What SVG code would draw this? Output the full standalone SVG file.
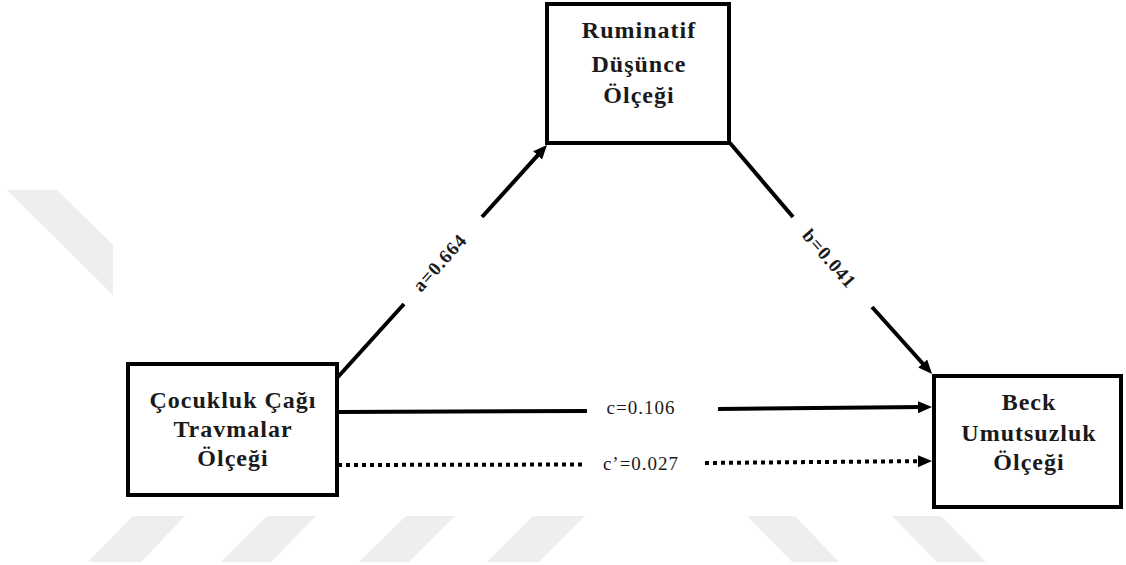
<svg xmlns="http://www.w3.org/2000/svg" width="1126" height="565" viewBox="0 0 1126 565">
<style>
.bg{fill:#ffffff}
.wm{fill:#eeeeee}
.box{fill:#ffffff;stroke:#000000;stroke-width:4}
.nt{font-family:"Liberation Serif","Times New Roman",serif;font-weight:bold;font-size:24px;letter-spacing:1px;fill:#1a1a1a;text-anchor:middle}
.ln{fill:none;stroke:#000000;stroke-width:4}
.dot{fill:none;stroke:#000000;stroke-width:4;stroke-dasharray:4 4}
.lb{font-family:"Liberation Serif","Times New Roman",serif;font-size:19px;letter-spacing:1px;fill:#1a1a1a;text-anchor:middle}
.lbb{font-weight:bold}
</style>
<defs>
<marker id="arr" markerUnits="userSpaceOnUse" markerWidth="16" markerHeight="14" refX="4" refY="6" orient="auto">
<path d="M0,0 L14,6 L0,12 z" fill="#000000"/>
</marker>
</defs>
<rect class="bg" x="0" y="0" width="1126" height="565"/>
<g id="watermark">
<polygon class="wm" points="7,190 57,190 113,245 113,295"/>
<polygon class="wm" points="133,516 185,516 141,562 88,562"/>
<polygon class="wm" points="267,516 316,516 271,562 221,562"/>
<polygon class="wm" points="406,516 455,516 409,562 359,562"/>
<polygon class="wm" points="533,516 585,516 539,562 487,562"/>
<polygon class="wm" points="747,516 795,516 839,562 792,562"/>
<polygon class="wm" points="892,516 941,516 986,562 937,562"/>
</g>
<g id="connectors">
<line class="ln" x1="337" y1="378" x2="404" y2="304"/>
<line class="ln" x1="482" y1="217" x2="540.3" y2="152.4" marker-end="url(#arr)"/>
<text class="lb lbb" transform="translate(440,263) rotate(-48)" y="6">a=0.664</text>
<line class="ln" x1="730" y1="143" x2="793" y2="217"/>
<line class="ln" x1="872" y1="307" x2="925.4" y2="366.5" marker-end="url(#arr)"/>
<text class="lb lbb" transform="translate(829,259) rotate(49)" y="6">b=0.041</text>
<line class="ln" x1="338" y1="412" x2="587" y2="411"/>
<line class="ln" x1="718" y1="409" x2="922" y2="407.1" marker-end="url(#arr)"/>
<text class="lb" x="641" y="414">c=0.106</text>
<line class="dot" x1="338" y1="465" x2="585" y2="464.5"/>
<line class="dot" x1="705" y1="463" x2="922" y2="461.1" marker-end="url(#arr)"/>
<text class="lb" x="641" y="470">c’=0.027</text>
</g>
<g id="node-ruminatif">
<rect class="box" x="547" y="4" width="182" height="139"/>
<text class="nt" x="639" y="38">Ruminatif</text>
<text class="nt" x="639" y="72">Düşünce</text>
<text class="nt" x="639" y="103">Ölçeği</text>
</g>
<g id="node-cocukluk">
<rect class="box" x="128" y="364" width="209" height="131"/>
<text class="nt" x="233" y="408">Çocukluk Çağı</text>
<text class="nt" x="233" y="437">Travmalar</text>
<text class="nt" x="233" y="466">Ölçeği</text>
</g>
<g id="node-beck">
<rect class="box" x="934" y="376" width="187" height="131"/>
<text class="nt" x="1029" y="410">Beck</text>
<text class="nt" x="1029" y="441">Umutsuzluk</text>
<text class="nt" x="1029" y="470">Ölçeği</text>
</g>
</svg>
